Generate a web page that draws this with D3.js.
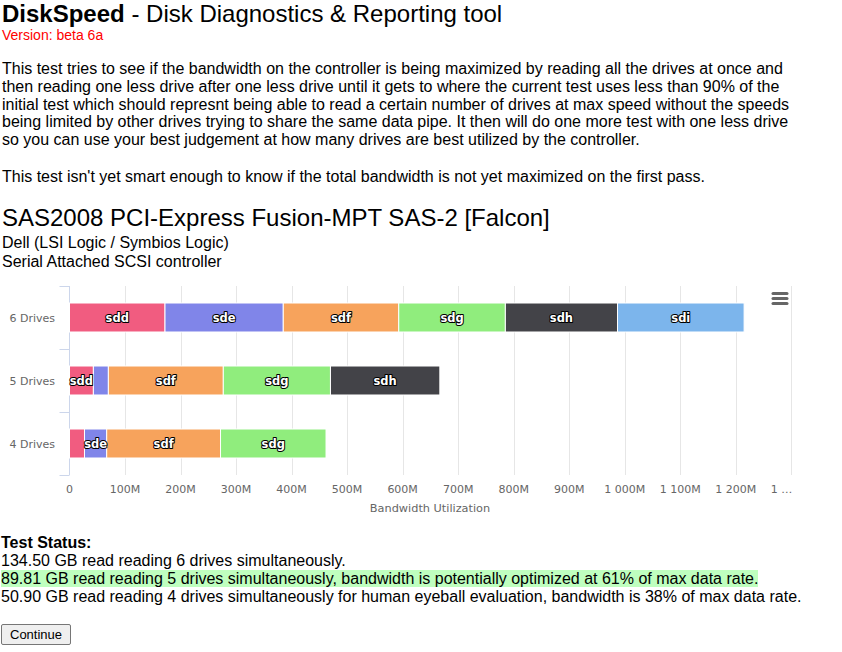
<!DOCTYPE html>
<html>
<head>
<meta charset="utf-8">
<script src="https://cdn.jsdelivr.net/npm/d3@7"></script>
<style>
  body { margin: 0; width: 842px; height: 652px; overflow: hidden; font-family: "Liberation Sans", Arial, sans-serif; color: #000; background: #fff; position: relative; }
  .blk { position: absolute; left: 2px; white-space: nowrap; }
  .title { top: 0; font-size: 24px; line-height: 27.6px; }
  .version { top: 27px; font-size: 14px; color: #ff0000; }
  .para { top: 60px; font-size: 16px; line-height: 17.75px; }
  .para2 { top: 168px; font-size: 16px; }
  .ctrl { top: 204px; font-size: 24px; line-height: 27.6px; }
  .vendor { top: 234px; font-size: 16px; line-height: 18.5px; }
  .status { top: 534px; left: 1px; font-size: 16px; line-height: 18px; }
  .hl { background: #bfffbf; }
  .btn { position: absolute; left: 1px; top: 624px; height: 21px; padding: 0 8px; font-family: "Liberation Sans", Arial, sans-serif; font-size: 13px; background: #efefef; border: 1px solid #767676; border-radius: 2px; }
  svg { position: absolute; left: 0; top: 0; }
  .chart text { font-family: "DejaVu Sans", sans-serif; }
</style>
</head>
<body>
<div class="blk title"><b>DiskSpeed</b> - Disk Diagnostics &amp; Reporting tool</div>
<div class="blk version">Version: beta 6a</div>
<div class="blk para">This test tries to see if the bandwidth on the controller is being maximized by reading all the drives at once and<br>then reading one less drive after one less drive until it gets to where the current test uses less than 90% of the<br>initial test which should represnt being able to read a certain number of drives at max speed without the speeds<br>being limited by other drives trying to share the same data pipe. It then will do one more test with one less drive<br>so you can use your best judgement at how many drives are best utilized by the controller.</div>
<div class="blk para2">This test isn't yet smart enough to know if the total bandwidth is not yet maximized on the first pass.</div>
<div class="blk ctrl">SAS2008 PCI-Express Fusion-MPT SAS-2 [Falcon]</div>
<div class="blk vendor">Dell (LSI Logic / Symbios Logic)<br>Serial Attached SCSI controller</div>
<div id="chart"></div>
<div class="blk status"><b>Test Status:</b><br>134.50 GB read reading 6 drives simultaneously.<br><span class="hl">89.81 GB read reading 5 drives simultaneously, bandwidth is potentially optimized at 61% of max data rate.</span><br>50.90 GB read reading 4 drives simultaneously for human eyeball evaluation, bandwidth is 38% of max data rate.</div>
<button class="btn">Continue</button>
<script>
// categories and series (MB/s per drive)
const categories = ['6 Drives', '5 Drives', '4 Drives'];
const disks = ['sdd', 'sde', 'sdf', 'sdg', 'sdh', 'sdi'];
const speeds6 = [172, 213, 208, 192, 202, 228];
const speeds5 = [43, 27, 207, 193, 197];
const speeds4 = [27, 40, 205, 190];
const tickValues = [0, 100, 200, 300, 400, 500, 600, 700, 800, 900, 1000, 1100, 1200, 1300];
const tickLabels = ['0', '100M', '200M', '300M', '400M', '500M', '600M', '700M', '800M', '900M', '1 000M', '1 100M', '1 200M', '1 300M'];
const colors = ['#f15c80', '#8085e9', '#f7a35c', '#90ed7d', '#434348', '#7cb5ec'];

const rows = [speeds6, speeds5, speeds4];

//stack the segments of each row
const segs = [];
rows.forEach((vals, r) => {
  let cum = 0;
  vals.forEach((v, i) => {
    segs.push({ cat: categories[r], disk: disks[i], x0: cum, x1: cum + v, color: colors[i] });
    cum += v;
  });
});

const svg = d3.select('#chart')
  .append('svg')
    .attr('class', 'chart')
    .attr('width', 842)
    .attr('height', 652);

const x = d3.scaleLinear()
  .domain([0, 1300])
  .range([69.5, 791.3]);

const y = d3.scaleBand()
  .domain(categories)
  .range([286, 475])
  .paddingInner(0.54)
  .paddingOuter(0.27);

//grid lines
svg.append('g')
  .selectAll('line')
  .data(tickValues.slice(1))
  .enter().append('line')
    .attr('x1', d => Math.round(x(d)) + 0.5)
    .attr('x2', d => Math.round(x(d)) + 0.5)
    .attr('y1', 286)
    .attr('y2', 475)
    .attr('stroke', '#e6e6e6');

//category axis
svg.append('line')
  .attr('x1', 69.5).attr('x2', 69.5)
  .attr('y1', 286).attr('y2', 475)
  .attr('stroke', '#ccd6eb');

const bounds = [286, 349, 412, 475];
svg.append('g')
  .selectAll('line')
  .data(bounds)
  .enter().append('line')
    .attr('x1', 59.5).attr('x2', 69.5)
    .attr('y1', d => d + 0.5).attr('y2', d => d + 0.5)
    .attr('stroke', '#ccd6eb');

svg.append('g')
  .selectAll('text')
  .data(categories)
  .enter().append('text')
    .attr('x', 55)
    .attr('y', d => y(d) + y.bandwidth() / 2 + 4)
    .attr('text-anchor', 'end')
    .attr('font-size', '11px')
    .attr('fill', '#666666')
    .text(d => d);

//bars
svg.append('g')
  .selectAll('rect')
  .data(segs)
  .enter().append('rect')
    .attr('x', d => x(d.x0))
    .attr('y', d => y(d.cat))
    .attr('width', d => x(d.x1) - x(d.x0))
    .attr('height', y.bandwidth())
    .attr('fill', d => d.color)
    .attr('stroke', '#ffffff')
    .attr('stroke-width', 1);

//bar labels, hidden when the segment is too narrow
svg.append('g')
  .selectAll('text')
  .data(segs.filter(d => x(d.x1) - x(d.x0) >= 20))
  .enter().append('text')
    .attr('x', d => (x(d.x0) + x(d.x1)) / 2)
    .attr('y', d => y(d.cat) + y.bandwidth() / 2 + 4.5)
    .attr('text-anchor', 'middle')
    .attr('font-size', '11.5px')
    .attr('font-weight', 'bold')
    .attr('fill', '#ffffff')
    .attr('stroke', '#000000')
    .attr('stroke-width', 2)
    .attr('stroke-linejoin', 'round')
    .attr('paint-order', 'stroke')
    .text(d => d.disk);

//value axis labels
const tl = svg.append('g')
  .selectAll('text')
  .data(tickValues)
  .enter().append('text')
    .attr('x', d => x(d))
    .attr('y', 493)
    .attr('text-anchor', 'middle')
    .attr('font-size', '11px')
    .attr('fill', '#666666')
    .text((d, i) => tickLabels[i]);

//last label is cut off with an ellipsis
tl.filter(d => d === 1300).each(function () {
  const bb = this.getBBox();
  d3.select(this).attr('text-anchor', 'start').attr('x', bb.x).text('1 …');
});

svg.append('text')
  .attr('x', 430)
  .attr('y', 512)
  .attr('text-anchor', 'middle')
  .attr('font-size', '11.3px')
  .attr('fill', '#666666')
  .text('Bandwidth Utilization');

//menu icon
svg.append('g')
  .selectAll('line')
  .data([293.5, 298.5, 303.5])
  .enter().append('line')
    .attr('x1', 773).attr('x2', 787)
    .attr('y1', d => d).attr('y2', d => d)
    .attr('stroke', '#666666')
    .attr('stroke-width', 3)
    .attr('stroke-linecap', 'round');
</script>
</body>
</html>
